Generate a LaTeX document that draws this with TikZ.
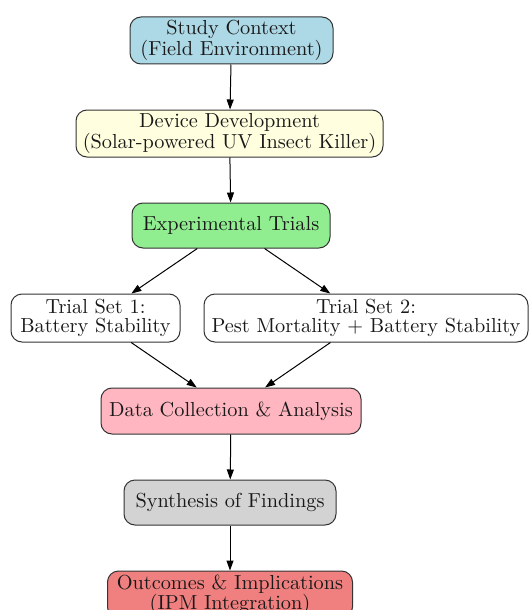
\documentclass[tikz,border=0pt]{standalone}
\usepackage{fontspec}
\setmainfont{lmroman10-regular}[Extension=.otf]
\usepackage{tikz}
\usetikzlibrary{positioning}
\usetikzlibrary{arrows.meta}
\definecolor{ctxblue}{HTML}{ADD8E6}
\definecolor{devyellow}{HTML}{FFFFE0}
\definecolor{expgreen}{HTML}{90EE90}
\definecolor{datapink}{HTML}{FFB6C1}
\definecolor{syngray}{HTML}{D3D3D3}
\definecolor{outcoral}{HTML}{F08080}
\definecolor{edgegray}{HTML}{333333}

\begin{document}
\begin{tikzpicture}[->,>={Triangle[length=10pt,width=7pt]},node distance = 45pt,line width=1pt,font=\fontsize{20.3}{19}\selectfont]
\tikzstyle{v}=[rectangle,rounded corners=11pt,draw=edgegray,text=black!90,align=center,minimum height=45pt,inner xsep=3pt,inner ysep=2pt]
\useasboundingbox (0pt,0pt) rectangle (529pt,-610pt);
\node[v, fill=ctxblue, minimum width=203pt, minimum height=47pt]	(ctx)	at (231.5pt,-40.5pt)	{Study Context\\(Field Environment)};
\node[v, fill=devyellow, minimum width=307pt, minimum height=47pt]	(dev)	[below = of ctx, xshift=-2pt]	{Device Development\\(Solar-powered UV Insect Killer)};
\node[v, fill=expgreen, minimum width=198pt]	(exp)	[below = of dev, xshift=1.5pt]	{Experimental Trials};
\node[v, fill=white, minimum width=169pt, minimum height=48pt]	(ts1)	[below = of exp, xshift=-135.5pt]	{Trial Set 1:\\Battery Stability};
\node[v, fill=white, minimum width=324pt, minimum height=48pt]	(ts2)	[right = 23pt of ts1]	{Trial Set 2:\\Pest Mortality + Battery Stability};
\node[v, fill=datapink, minimum width=260pt, minimum height=46pt]	(data)	[below = of ts1, xshift=135.5pt]	{Data Collection \& Analysis};
\node[v, fill=syngray, minimum width=212pt]	(syn)	[below = of data, xshift=-1pt]	{Synthesis of Findings};
\node[v, fill=outcoral, minimum width=245pt, minimum height=47pt]	(out)	[below = of syn]	{Outcomes \& Implications\\(IPM Integration)};
\path[draw=black]
	 (ctx)	edge	(dev)
	 (dev)	edge	(exp)
	 (exp)	edge	(ts1)
	 (exp)	edge	(ts2)
	 (ts1)	edge	(data)
	 (ts2)	edge	(data)
	 (data)	edge	(syn)
	 (syn)	edge	(out);
\end{tikzpicture}
\end{document}
